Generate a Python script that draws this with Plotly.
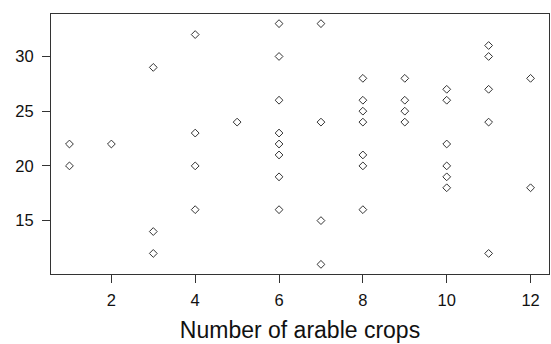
import plotly.graph_objects as go

crops = [1, 1, 2, 3, 3, 3, 4, 4, 4, 4, 5,
         6, 6, 6, 6, 6, 6, 6, 6,
         7, 7, 7, 7,
         8, 8, 8, 8, 8, 8, 8,
         9, 9, 9, 9,
         10, 10, 10, 10, 10, 10,
         11, 11, 11, 11, 11,
         12, 12]
values = [22, 20, 22, 29, 14, 12, 32, 23, 20, 16, 24,
          33, 30, 26, 23, 22, 21, 19, 16,
          33, 24, 15, 11,
          28, 26, 25, 24, 21, 20, 16,
          28, 26, 25, 24,
          27, 26, 22, 20, 19, 18,
          31, 30, 27, 24, 12,
          28, 18]
x_ticks = [2, 4, 6, 8, 10, 12]
y_ticks = [15, 20, 25, 30]
x_title = "Number of arable crops"

FONT = "Liberation Sans, Arial, sans-serif"
LINE = "#333333"

fig = go.Figure(go.Scatter(
    x=crops, y=values, mode="markers",
    marker=dict(symbol="diamond-open", size=6, color="#333333",
                line=dict(width=1, color="#333333")),
    showlegend=False, hoverinfo="skip",
))

fig.update_layout(
    width=551, height=344,
    margin=dict(l=51, r=2, t=14, b=70, autoexpand=False),
    paper_bgcolor="white", plot_bgcolor="white",
    font=dict(family=FONT, size=16.5, color="#111111"),
)
fig.update_xaxes(
    range=[0.56, 12.44], tickmode="array", tickvals=x_ticks,
    ticks="outside", ticklen=8, tickcolor=LINE, tickwidth=1,
    showline=True, linecolor=LINE, linewidth=1, mirror=True,
    showgrid=False, zeroline=False, automargin=False,
    tickfont=dict(size=16.5), ticklabelstandoff=3,
    title=dict(text=x_title, font=dict(size=23), standoff=14),
)
fig.update_yaxes(
    range=[10.12, 33.88], tickmode="array", tickvals=y_ticks,
    ticks="outside", ticklen=8, tickcolor=LINE, tickwidth=1,
    showline=True, linecolor=LINE, linewidth=1, mirror=True,
    showgrid=False, zeroline=False, automargin=False,
    tickfont=dict(size=16.5), ticklabelstandoff=5,
)

fig.write_html("out.html", config={"displayModeBar": False},
               post_script="document.body.style.margin='0';")
